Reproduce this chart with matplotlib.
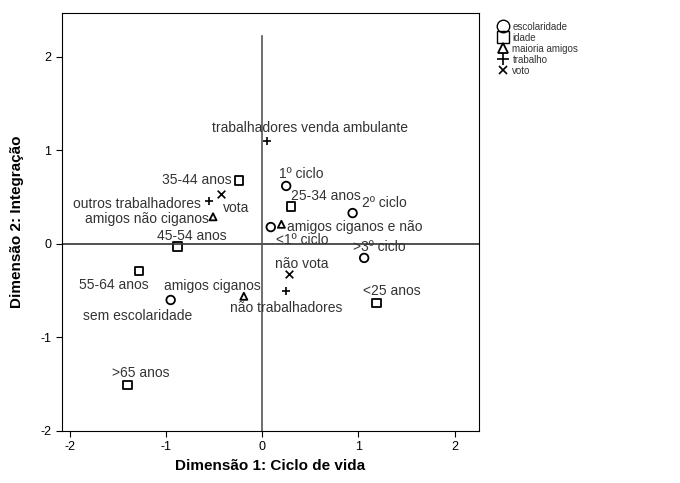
import numpy as np
import matplotlib.pyplot as plt
from matplotlib.lines import Line2D

plt.rcParams['font.family'] = ['Liberation Sans', 'DejaVu Sans']
plt.rcParams['axes.unicode_minus'] = False

# category coordinates per variable (dim1, dim2)
escolaridade_lab = ['1º ciclo', '2º ciclo', '<1º ciclo', '>3º ciclo', 'sem escolaridade']
escolaridade_x = [0.25, 0.94, 0.09, 1.06, -0.95]
escolaridade_y = [0.62, 0.33, 0.18, -0.15, -0.60]

idade_lab = ['35-44 anos', '45-54 anos', '25-34 anos', '<25 anos', '55-64 anos', '>65 anos']
idade_x = [-0.24, -0.88, 0.30, 1.19, -1.28, -1.40]
idade_y = [0.68, -0.03, 0.40, -0.63, -0.29, -1.51]

amigos_lab = ['amigos não ciganos', 'amigos ciganos e não', 'amigos ciganos']
amigos_x = [-0.51, 0.20, -0.19]
amigos_y = [0.29, 0.21, -0.56]

trabalho_lab = ['trabalhadores venda ambulante', 'outros trabalhadores', 'não trabalhadores']
trabalho_x = [0.05, -0.55, 0.25]
trabalho_y = [1.10, 0.46, -0.50]

voto_lab = ['vota', 'não vota']
voto_x = [-0.43, 0.28]
voto_y = [0.53, -0.32]

# label offsets in pixels (dx, dy, ha)
offs = {
    '1º ciclo': (-7, 12, 'left'), '2º ciclo': (9, 10, 'left'), '<1º ciclo': (5, -13, 'left'),
    '>3º ciclo': (-11, 11, 'left'), 'sem escolaridade': (-33, -16, 'center'),
    '35-44 anos': (-7, 0, 'right'), '45-54 anos': (14, 11, 'center'), '25-34 anos': (0, 11, 'left'),
    '<25 anos': (-14, 12, 'left'), '55-64 anos': (-25, -14, 'center'), '>65 anos': (13, 12, 'center'),
    'amigos não ciganos': (-4, -2, 'right'), 'amigos ciganos e não': (6, -3, 'left'),
    'amigos ciganos': (-31, 10, 'center'),
    'trabalhadores venda ambulante': (43, 13, 'center'), 'outros trabalhadores': (-8, -3, 'right'),
    'não trabalhadores': (0, -17, 'center'),
    'vota': (2, -14, 'left'), 'não vota': (-14, 10, 'left'),
}

fig = plt.figure(figsize=(6.8, 4.83), dpi=100)
ax = fig.add_axes([0.091, 0.108, 0.613, 0.865])

groups = [
    ('escolaridade', escolaridade_lab, escolaridade_x, escolaridade_y, 'o'),
    ('idade', idade_lab, idade_x, idade_y, 's'),
    ('maioria amigos', amigos_lab, amigos_x, amigos_y, '^'),
    ('trabalho', trabalho_lab, trabalho_x, trabalho_y, '+'),
    ('voto', voto_lab, voto_x, voto_y, 'x'),
]
for name, labs, xs, ys, m in groups:
    if m in '+x':
        ax.scatter(xs, ys, marker=m, s=30, c='black', linewidths=1.2)
    else:
        ax.scatter(xs, ys, marker=m, s=38 if m != '^' else 26, facecolors='none',
                   edgecolors='black', linewidths=1.3)
    for l, x, y in zip(labs, xs, ys):
        dx, dy, ha = offs[l]
        ax.annotate(l, (x, y), xytext=(dx, dy), textcoords='offset pixels',
                    ha=ha, va='center', fontsize=10, color='#333333')

ax.axhline(0, color='#333333', lw=1.2)
ax.plot([0, 0], [-2, 2.22], color='#555555', lw=1.2)

ax.set_xlim(-2.08, 2.25)
ax.set_ylim(-2, 2.47)
ax.set_xticks([-2, -1, 0, 1, 2])
ax.set_yticks([-2, -1, 0, 1, 2])
ax.tick_params(labelsize=9, length=4, direction='out')
ax.set_xlabel('Dimensão 1: Ciclo de vida', fontsize=11, fontweight='bold')
ax.set_ylabel('Dimensão 2: Integração', fontsize=11, fontweight='bold', labelpad=12)

# legend outside
handles = [Line2D([], [], ls='none', marker='o', ms=9, mfc='none', mec='black'),
           Line2D([], [], ls='none', marker='s', ms=9, mfc='none', mec='black'),
           Line2D([], [], ls='none', marker='^', ms=7, mfc='none', mec='black', mew=1.3),
           Line2D([], [], ls='none', marker='+', ms=8, mec='black', mew=1.2),
           Line2D([], [], ls='none', marker='x', ms=6, mec='black', mew=1.2)]
fig.legend(handles, [g[0] for g in groups], loc='upper left', bbox_to_anchor=(0.725, 0.965),
           frameon=False, fontsize=7, handletextpad=0.5, labelspacing=0.1,
           handlelength=1.0, borderpad=0, labelcolor='#333333')

fig.savefig('out.png', dpi=100)
